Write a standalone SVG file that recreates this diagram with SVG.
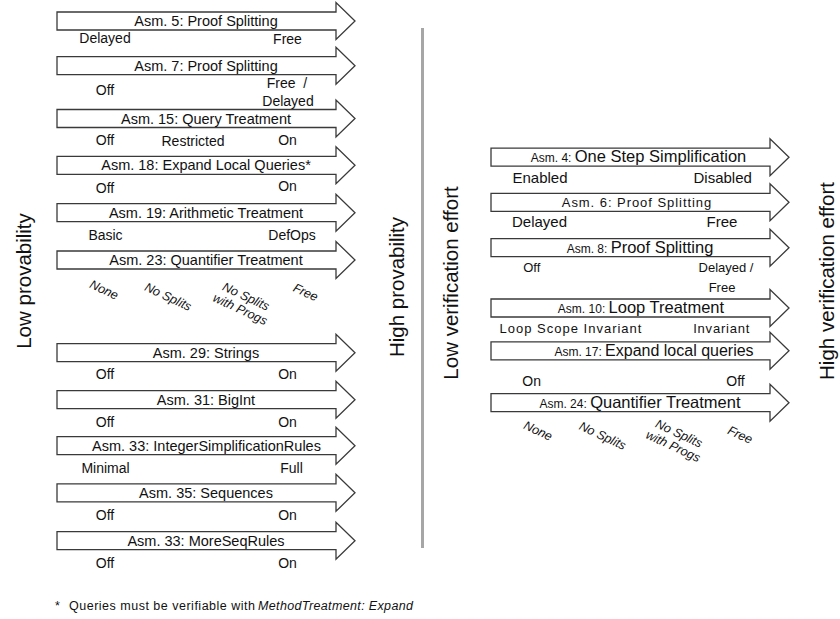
<svg xmlns="http://www.w3.org/2000/svg" xmlns:xlink="http://www.w3.org/1999/xlink" width="840" height="619" viewBox="0 0 840 619">
<style>
text{font-family:"Liberation Sans",Arial,sans-serif;fill:#111}
.t{font-size:14.5px;text-anchor:middle}
.l{font-size:14px;text-anchor:middle}
.r{font-size:12.5px;font-style:italic;text-anchor:middle}
.side{font-size:20.5px;text-anchor:middle}
.sm{font-size:12px}
.lg{font-size:16.5px}
.arr{fill:#fff;stroke:#3a3a3a;stroke-width:1.3}
</style>
<defs>
<path id="arrow" class="arr" d="M0,-9 H279 V-18.5 L298,0 L279,18.5 V9 H0 Z"/>
</defs>
<g id="connectors">
<line x1="422.5" y1="28" x2="422.5" y2="548" stroke="#a6a6a6" stroke-width="3"/>
</g>
<g id="side-labels">
<text class="side" transform="translate(31,281) rotate(-90)">Low provability</text>
<text class="side" transform="translate(404,287) rotate(-90)">High provability</text>
<text class="side" transform="translate(458,283) rotate(-90)">Low verification effort</text>
<text class="side" transform="translate(833.5,281) rotate(-90)">High verification effort</text>
</g>
<g id="asm5"><use xlink:href="#arrow" href="#arrow" x="57" y="21"/>
<text class="t" x="206" y="26">Asm. 5: Proof Splitting</text>
<text class="l" x="105" y="42.5">Delayed</text><text class="l" x="287.5" y="43.5">Free</text></g>
<g id="asm7"><use xlink:href="#arrow" href="#arrow" x="57" y="65.7"/>
<text class="t" x="206" y="70.7">Asm. 7: Proof Splitting</text>
<text class="l" x="105" y="95">Off</text><text class="l" x="287" y="87.7" xml:space="preserve">Free  /</text><text class="l" x="288" y="106">Delayed</text></g>
<g id="asm15"><use xlink:href="#arrow" href="#arrow" x="57" y="118.5"/>
<text class="t" x="206" y="123.5">Asm. 15: Query Treatment</text>
<text class="l" x="105" y="145">Off</text><text class="l" x="193" y="145.7">Restricted</text><text class="l" x="287.5" y="145">On</text></g>
<g id="asm18"><use xlink:href="#arrow" href="#arrow" x="57" y="165.3"/>
<text class="t" x="206" y="170.3">Asm. 18: Expand Local Queries*</text>
<text class="l" x="105" y="192.5">Off</text><text class="l" x="287.5" y="190.5">On</text></g>
<g id="asm19"><use xlink:href="#arrow" href="#arrow" x="57" y="212.7"/>
<text class="t" x="206" y="217.7">Asm. 19: Arithmetic Treatment</text>
<text class="l" x="105.5" y="240">Basic</text><text class="l" x="292" y="240">DefOps</text></g>
<g id="asm23"><use xlink:href="#arrow" href="#arrow" x="57" y="260"/>
<text class="t" x="206" y="265">Asm. 23: Quantifier Treatment</text>
<text class="r" transform="translate(104,290) rotate(25)" y="4">None</text>
<text class="r" transform="translate(168,297) rotate(25)" y="4">No Splits</text>
<g transform="translate(243,303) rotate(25)"><text class="r" y="-3">No Splits</text><text class="r" y="11">with Progs</text></g>
<text class="r" transform="translate(305.5,292.5) rotate(25)" y="4">Free</text></g>
<g id="asm29"><use xlink:href="#arrow" href="#arrow" x="57" y="352.7"/>
<text class="t" x="206" y="357.7">Asm. 29: Strings</text>
<text class="l" x="105" y="378.5">Off</text><text class="l" x="287.5" y="378.5">On</text></g>
<g id="asm31"><use xlink:href="#arrow" href="#arrow" x="57" y="399.7"/>
<text class="t" x="206" y="404.7">Asm. 31: BigInt</text>
<text class="l" x="105" y="426.7">Off</text><text class="l" x="287.5" y="426.7">On</text></g>
<g id="asm33-int"><use xlink:href="#arrow" href="#arrow" x="57" y="445.7"/>
<text class="t" x="206.5" y="450.7">Asm. 33: IntegerSimplificationRules</text>
<text class="l" x="105.5" y="472.7">Minimal</text><text class="l" x="291.5" y="472.7">Full</text></g>
<g id="asm35"><use xlink:href="#arrow" href="#arrow" x="57" y="492.8"/>
<text class="t" x="206" y="497.8">Asm. 35: Sequences</text>
<text class="l" x="105" y="520">Off</text><text class="l" x="287.5" y="520">On</text></g>
<g id="asm33-more"><use xlink:href="#arrow" href="#arrow" x="57" y="540.7"/>
<text class="t" x="206" y="545.7">Asm. 33: MoreSeqRules</text>
<text class="l" x="105" y="567.7">Off</text><text class="l" x="287.5" y="567.7">On</text></g>
<g id="asm4"><use xlink:href="#arrow" href="#arrow" x="491" y="157.2"/>
<text x="638.5" y="162" text-anchor="middle"><tspan class="sm">Asm. 4: </tspan><tspan class="lg">One Step Simplification</tspan></text>
<text class="l" style="font-size:15px" x="540" y="183.3">Enabled</text><text class="l" style="font-size:15px" x="722.7" y="183.3">Disabled</text></g>
<g id="asm6"><use xlink:href="#arrow" href="#arrow" x="491" y="202.3"/>
<text x="637" y="207.3" text-anchor="middle" style="font-size:13px;letter-spacing:0.95px">Asm. 6: Proof Splitting</text>
<text class="l" style="font-size:15px" x="539.5" y="226.7">Delayed</text><text class="l" style="font-size:15px" x="722" y="226.7">Free</text></g>
<g id="asm8"><use xlink:href="#arrow" href="#arrow" x="491" y="247.7"/>
<text x="640" y="253" text-anchor="middle"><tspan class="sm">Asm. 8: </tspan><tspan class="lg">Proof Splitting</tspan></text>
<text class="l" style="font-size:13px" x="531.7" y="272">Off</text><text class="l" style="font-size:13px" x="726" y="272">Delayed /</text><text class="l" style="font-size:13px" x="722" y="291.5">Free</text></g>
<g id="asm10"><use xlink:href="#arrow" href="#arrow" x="491" y="308"/>
<text x="641" y="313" text-anchor="middle"><tspan class="sm">Asm. 10: </tspan><tspan class="lg">Loop Treatment</tspan></text>
<text class="l" style="font-size:13px;letter-spacing:1px" x="571" y="333.3">Loop Scope Invariant</text><text class="l" style="font-size:13px;letter-spacing:0.8px" x="721.7" y="333">Invariant</text></g>
<g id="asm17"><use xlink:href="#arrow" href="#arrow" x="491" y="350.8"/>
<text x="654" y="356" text-anchor="middle"><tspan class="sm">Asm. 17: </tspan><tspan class="lg" style="font-size:16px">Expand local queries</tspan></text>
<text class="l" x="531.7" y="386">On</text><text class="l" x="735.5" y="386">Off</text></g>
<g id="asm24"><use xlink:href="#arrow" href="#arrow" x="491" y="402.7"/>
<text x="640" y="408" text-anchor="middle"><tspan class="sm">Asm. 24: </tspan><tspan class="lg">Quantifier Treatment</tspan></text>
<text class="r" transform="translate(538,431) rotate(25)" y="4">None</text>
<text class="r" transform="translate(602.5,436) rotate(25)" y="4">No Splits</text>
<g transform="translate(676,440) rotate(25)"><text class="r" y="-3">No Splits</text><text class="r" y="11">with Progs</text></g>
<text class="r" transform="translate(740,435) rotate(25)" y="4">Free</text></g>
<g id="footnote">
<text x="55" y="610" style="font-size:12.5px">*</text>
<text x="69" y="610" style="font-size:12.5px" textLength="186">Queries must be verifiable with</text>
<text x="258" y="610" style="font-size:12.5px;font-style:italic" textLength="155">MethodTreatment: Expand</text>
</g>
</svg>
